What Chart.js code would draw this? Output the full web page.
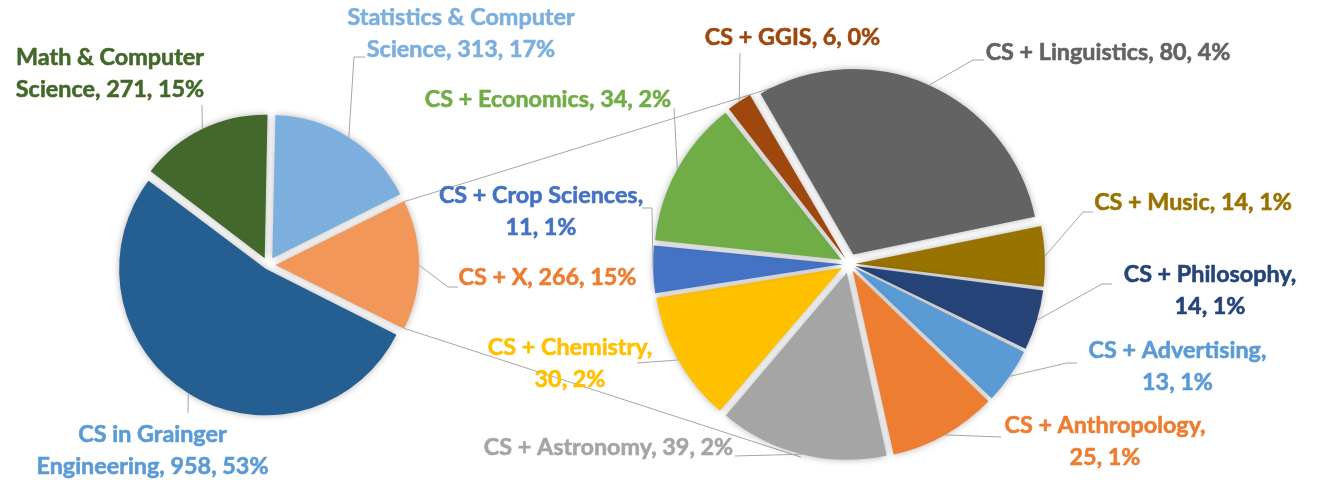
<!DOCTYPE html>
<html>
<head>
<meta charset="utf-8">
<script src="https://cdn.jsdelivr.net/npm/chart.js@4/dist/chart.umd.min.js"></script>
<style>
html,body{margin:0;padding:0;background:#ffffff;}
#wrap{position:relative;width:1317px;height:480px;overflow:hidden;background:#fff;}
canvas{position:absolute;left:0;top:0;}
</style>
</head>
<body>
<div id="wrap">
<canvas id="c1" width="1317" height="480"></canvas>
<canvas id="c2" width="1317" height="480"></canvas>
</div>
<script>
// ---------------- data ----------------
const mainCategories = ["CS in Grainger Engineering", "Math & Computer Science", "Statistics & Computer Science", "CS + X"];
const mainValues = [958, 271, 313, 266];
const subCategories = ["CS + Linguistics", "CS + Music", "CS + Philosophy", "CS + Advertising", "CS + Anthropology",
  "CS + Astronomy", "CS + Chemistry", "CS + Crop Sciences", "CS + Economics", "CS + GGIS"];
const subValues = [80, 14, 14, 13, 25, 39, 30, 11, 34, 6];

// ---------------- styles ----------------
const mainColors = ["#255E91", "#43682B", "#7CAFDD", "#F1975A"];
const mainLabelColors = ["#5B9BD5", "#43682B", "#7CAFDD", "#ED7D31"];
const subColors = ["#636363", "#997300", "#264478", "#5B9BD5", "#ED7D31", "#A5A5A5", "#FFC000", "#4472C4", "#70AD47", "#9E480E"];
const subLabelColors = subColors;
const leaderColor = "#A6A6A6";

// label layout: centre x of text, first baseline, words on first line (0 = one line), leader path points
const mainLabelLayout = [
  {cx: 152.5, y: 442, wrap: 3, path: [[188, 413]]},
  {cx: 110, y: 65, wrap: 3, path: [[202, 105]]},
  {cx: 461, y: 25, wrap: 3, path: [[354, 57], [365, 57]]},
  {cx: 547.5, y: 285, wrap: 0, path: [[448, 287], [458, 287]]}
];
const subLabelLayout = [
  {cx: 1108, y: 60, wrap: 0, path: [[973, 60], [984, 60]]},
  {cx: 1193, y: 210, wrap: 0, path: [[1083, 212], [1093, 212]]},
  {cx: 1210, y: 282, wrap: 3, path: [[1102, 284], [1112, 284]]},
  {cx: 1177.5, y: 358, wrap: 3, path: [[1067, 363], [1077, 363]]},
  {cx: 1105, y: 433, wrap: 3, path: [[1001, 437]]},
  {cx: 608.5, y: 455, wrap: 0, path: [[735, 456]]},
  {cx: 570, y: 355, wrap: 3, path: [[637, 363]]},
  {cx: 541, y: 203, wrap: 4, path: [[652, 208], [642, 208]]},
  {cx: 548, y: 107, wrap: 0, path: [[674, 108]]},
  {cx: 792.5, y: 45, wrap: 0, path: [[740, 53]]}
];
const lineGap = 31.5;
const mainExplode = 9, subExplode = 11;
const subRotation = -30;

// ---------------- helpers ----------------
const total = mainValues.reduce((a, b) => a + b, 0);
const otherIndex = 3;
const mainRotation = 90 + (mainValues[otherIndex] / total * 360) / 2;

// font size calibrated so the label font width matches the original rendering
const fontFamily = "Lato, 'Open Sans', sans-serif";
const measureCtx = document.createElement('canvas').getContext('2d');
measureCtx.font = "bold 22px " + fontFamily;
const fontSize = 22 * ((190 / measureCtx.measureText("Math & Computer").width) + (247 / measureCtx.measureText("CS + Astronomy, 39, 2%").width)) / 2;

function uniformOffset(d) {
  return (ctx) => {
    const vals = ctx.dataset.data;
    const tot = vals.reduce((a, b) => a + b, 0);
    const circ = vals[ctx.dataIndex] / tot * 2 * Math.PI;
    const fix = 1 - Math.sin(Math.min(Math.PI, circ));
    return 4 * d / (1 + fix);
  };
}

function arcPoint(arc, d, angle, extra) {
  const p = arc.getProps(['x', 'y', 'startAngle', 'endAngle', 'outerRadius'], true);
  const mid = (p.startAngle + p.endAngle) / 2;
  const a = angle === undefined ? mid : angle;
  const r = p.outerRadius + (extra || 0);
  return [p.x + Math.cos(mid) * d + Math.cos(a) * r, p.y + Math.sin(mid) * d + Math.sin(a) * r];
}

function labelLines(name, value, wrap) {
  const pct = Math.round(value / total * 100);
  const full = name + ", " + value + ", " + pct + "%";
  if (!wrap) return [full];
  const w = full.split(' ');
  return [w.slice(0, wrap).join(' '), w.slice(wrap).join(' ')];
}

function drawLabels(chart, names, values, layout, colors, d) {
  const ctx = chart.ctx;
  const arcs = chart.getDatasetMeta(0).data;
  ctx.save();
  ctx.strokeStyle = leaderColor;
  ctx.lineWidth = 1;
  arcs.forEach((arc, i) => {
    const L = layout[i];
    const start = arcPoint(arc, d);
    ctx.beginPath();
    ctx.moveTo(start[0], start[1]);
    L.path.forEach(pt => ctx.lineTo(pt[0], pt[1]));
    ctx.stroke();
  });
  ctx.font = "bold " + fontSize.toFixed(2) + "px " + fontFamily;
  ctx.textAlign = 'center';
  ctx.textBaseline = 'alphabetic';
  ctx.lineJoin = 'round';
  ctx.lineWidth = 0.6;
  arcs.forEach((arc, i) => {
    const L = layout[i];
    ctx.fillStyle = colors[i];
    ctx.strokeStyle = colors[i];
    labelLines(names[i], values[i], L.wrap).forEach((t, k) => {
      ctx.fillText(t, L.cx, L.y + k * lineGap);
      ctx.strokeText(t, L.cx, L.y + k * lineGap);
    });
  });
  ctx.restore();
}

const shadowPlugin = {
  id: 'softShadow',
  beforeDatasetsDraw(chart) {
    const c = chart.ctx;
    c.save();
    c.shadowColor = 'rgba(0,0,0,0.3)';
    c.shadowBlur = 7;
    c.shadowOffsetX = 0;
    c.shadowOffsetY = 0;
  },
  afterDatasetsDraw(chart) { chart.ctx.restore(); }
};

const baseOptions = (rot, radius, pad) => ({
  responsive: false,
  devicePixelRatio: 1,
  animation: false,
  rotation: rot,
  radius: radius,
  layout: {padding: pad},
  plugins: {legend: {display: false}, tooltip: {enabled: false}, title: {display: false}},
  elements: {arc: {borderWidth: 0}}
});

// ---------------- left pie ----------------
const chart1 = new Chart(document.getElementById('c1'), {
  type: 'pie',
  data: {
    labels: mainCategories,
    datasets: [{data: mainValues, backgroundColor: mainColors, borderWidth: 0, offset: uniformOffset(mainExplode)}]
  },
  options: baseOptions(mainRotation, 142, {left: 118, right: 899, top: 115, bottom: 65}),
  plugins: [shadowPlugin, {
    id: 'mainLabels',
    afterDraw(chart) { drawLabels(chart, mainCategories, mainValues, mainLabelLayout, mainLabelColors, mainExplode); }
  }]
});

// ---------------- right pie ----------------
const connectorPlugin = {
  id: 'connectors',
  beforeDatasetsDraw(chart) {
    const otherArc = chart1.getDatasetMeta(0).data[otherIndex];
    const op = otherArc.getProps(['startAngle', 'endAngle'], true);
    const a1 = arcPoint(otherArc, mainExplode, op.startAngle);
    const a2 = arcPoint(otherArc, mainExplode, op.endAngle);
    const ref = chart.getDatasetMeta(0).data[0];
    const toRad = deg => (deg - 90) * Math.PI / 180;
    const rp = ref.getProps(['x', 'y', 'outerRadius'], true);
    const b1 = [rp.x + Math.cos(toRad(-19)) * (rp.outerRadius + 6), rp.y + Math.sin(toRad(-19)) * (rp.outerRadius + 6)];
    const b2 = [rp.x + Math.cos(toRad(194)) * (rp.outerRadius + 14), rp.y + Math.sin(toRad(194)) * (rp.outerRadius + 14)];
    const c = chart.ctx;
    c.save();
    c.strokeStyle = leaderColor;
    c.lineWidth = 1;
    c.beginPath();
    c.moveTo(a1[0], a1[1]); c.lineTo(b1[0], b1[1]);
    c.moveTo(a2[0], a2[1]); c.lineTo(b2[0], b2[1]);
    c.stroke();
    c.restore();
  }
};

const chart2 = new Chart(document.getElementById('c2'), {
  type: 'pie',
  data: {
    labels: subCategories,
    datasets: [{data: subValues, backgroundColor: subColors, borderWidth: 0, offset: uniformOffset(subExplode)}]
  },
  options: baseOptions(subRotation, 185, {left: 649, right: 268, top: 64, bottom: 16}),
  plugins: [connectorPlugin, shadowPlugin, {
    id: 'subLabels',
    afterDraw(chart) { drawLabels(chart, subCategories, subValues, subLabelLayout, subLabelColors, subExplode); }
  }]
});
</script>
</body>
</html>
